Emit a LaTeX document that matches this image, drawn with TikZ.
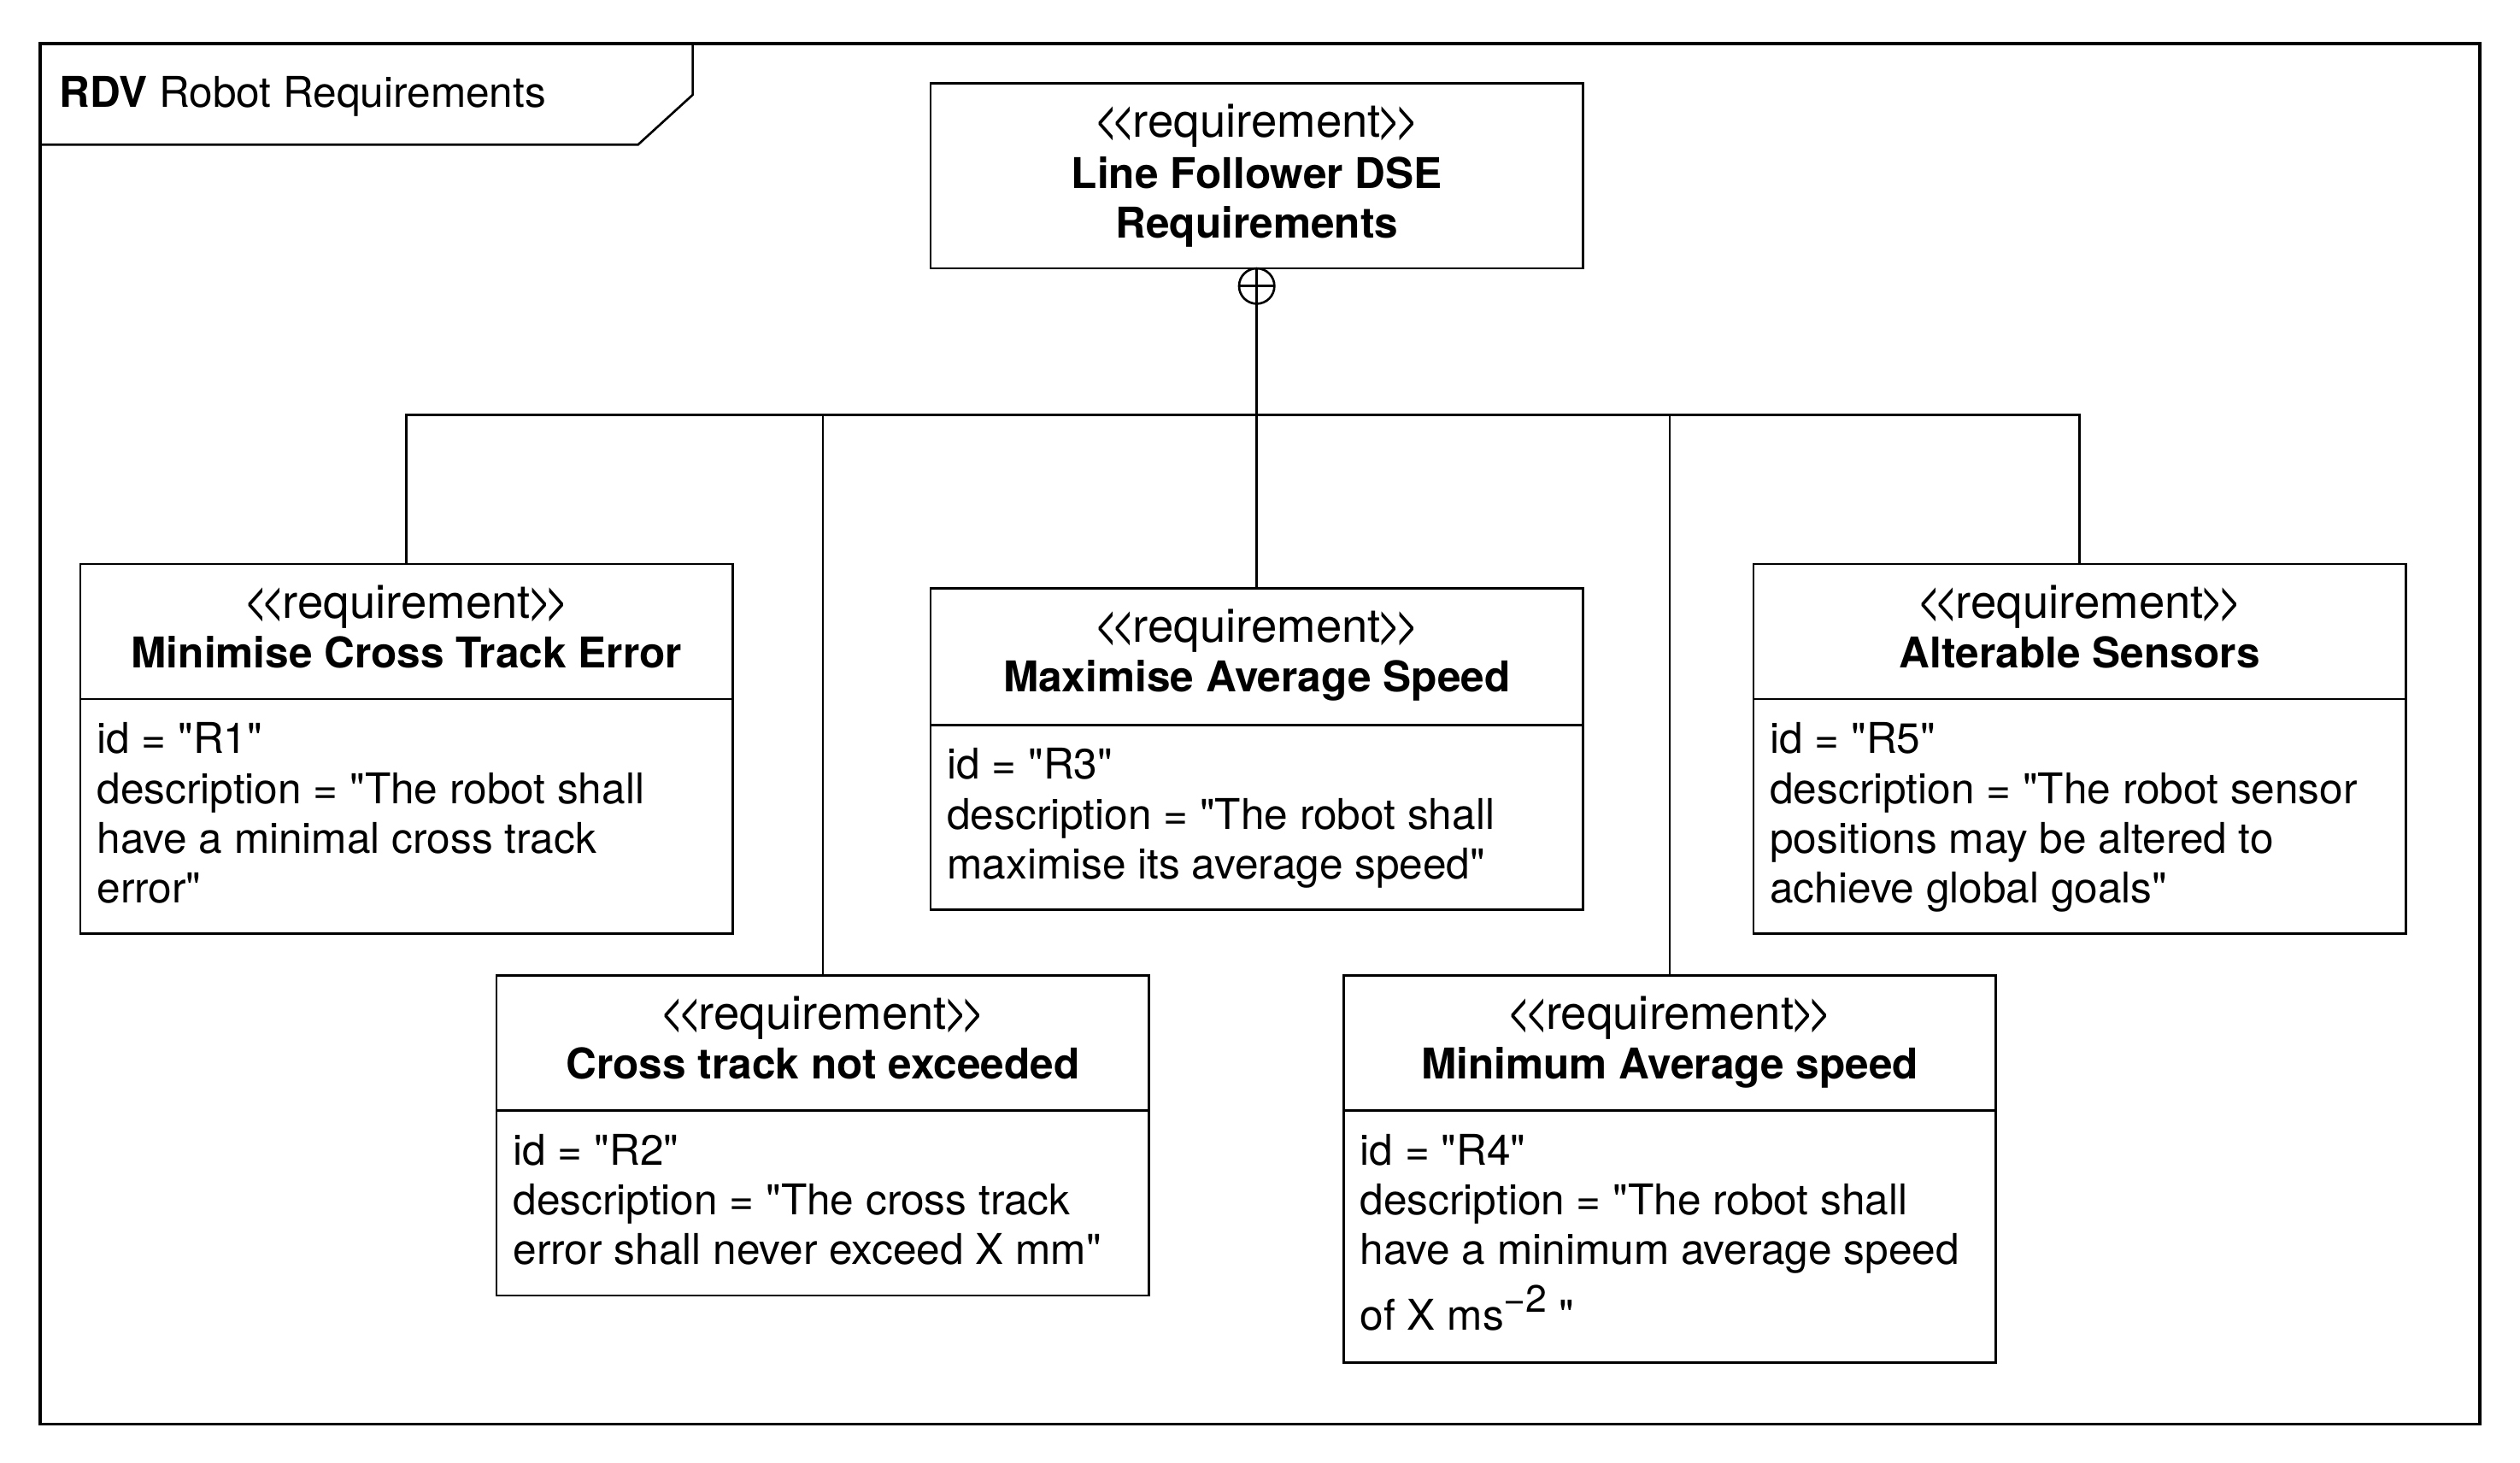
\documentclass[tikz,border=0pt]{standalone}
\usepackage{graphicx}
\usepackage{fontspec}
\newfontfamily\hv{TeX Gyre Heros}
\newcommand{\lch}{\scalebox{0.9}[1.15]{<}}
\newcommand{\rch}{\scalebox{0.9}[1.15]{>}}
\newcommand{\stereotxt}{\lch\kern-0.15em\lch\kern-0.07em requirement\kern-0.07em\rch\kern-0.15em\rch}
\begin{document}
\begin{tikzpicture}[x=0.02cm,y=-0.02cm,
  every node/.style={font=\hv\fontsize{15}{18}\selectfont},
  box/.style={draw,line width=0.8pt,rectangle,inner sep=0pt,outer sep=0pt,minimum width=8.12cm,anchor=north west},
  stereo/.style={anchor=base,inner sep=0pt,font=\hv\fontsize{16.5}{18}\selectfont},
  rname/.style={anchor=base,inner sep=0pt,font=\hv\bfseries\fontsize{15}{18}\selectfont},
  attr/.style={anchor=base west,inner sep=0pt},
  conn/.style={line width=0.8pt},
  divider/.style={line width=0.8pt}]
\useasboundingbox (0,0) rectangle (1568,910);
% frame
\draw[line width=1.1pt] (25,27) rectangle (1543,886);
\draw[line width=0.8pt] (25,90) -- (397,90) -- (431,59) -- (431,27);
\node[anchor=base west,inner sep=0pt] (title) at (36.6,66.8) {\textbf{RDV} Robot Requirements};
% top box
\node[box,minimum height=2.3cm] (top) at (579,52) {};
\node[stereo] (tops) at (782,85.1) {\stereotxt};
\node[rname] (topn1) at (782,117.3) {Line Follower DSE};
\node[rname] (topn2) at (782,148) {Requirements};
% R1
\node[box,minimum height=4.6cm] (r1) at (50,351) {};
\draw[divider] (50,435) -- (456,435);
\node[stereo] (r1s) at (253,384.5) {\stereotxt};
\node[rname] (r1n) at (253,415.5) {Minimise Cross Track Error};
\node[attr] (r1a) at (60,468.8) {id = "R1"};
\node[attr] (r1b) at (60,499.8) {description = "The robot shall};
\node[attr] (r1c) at (60,530.8) {have a minimal cross track};
\node[attr] (r1d) at (60,561.8) {error"};
% R2
\node[box,minimum height=3.98cm] (r2) at (309,607) {};
\draw[divider] (309,691) -- (715,691);
\node[stereo] (r2s) at (512,640.5) {\stereotxt};
\node[rname] (r2n) at (512,671.5) {Cross track not exceeded};
\node[attr] (r2a) at (319,724.8) {id = "R2"};
\node[attr] (r2b) at (319,755.8) {description = "The cross track};
\node[attr] (r2c) at (319,786.8) {error shall never exceed X mm"};
% R3
\node[box,minimum height=4.0cm] (r3) at (579,366) {};
\draw[divider] (579,451) -- (985,451);
\node[stereo] (r3s) at (782,399.5) {\stereotxt};
\node[rname] (r3n) at (782,430.5) {Maximise Average Speed};
\node[attr] (r3a) at (589,484.8) {id = "R3"};
\node[attr] (r3b) at (589,515.8) {description = "The robot shall};
\node[attr] (r3c) at (589,546.8) {maximise its average speed"};
% R4
\node[box,minimum height=4.82cm] (r4) at (836,607) {};
\draw[divider] (836,691) -- (1242,691);
\node[stereo] (r4s) at (1039,640.5) {\stereotxt};
\node[rname] (r4n) at (1039,671.5) {Minimum Average speed};
\node[attr] (r4a) at (846,724.8) {id = "R4"};
\node[attr] (r4b) at (846,755.8) {description = "The robot shall};
\node[attr] (r4c) at (846,786.8) {have a minimum average speed};
\node[attr] (r4d) at (846,827.7) {of X ms\raisebox{6.5pt}{\fontsize{13.5}{13.5}\selectfont −2} "};
% R5
\node[box,minimum height=4.6cm] (r5) at (1091,351) {};
\draw[divider] (1091,435) -- (1497,435);
\node[stereo] (r5s) at (1294,384.5) {\stereotxt};
\node[rname] (r5n) at (1294,415.5) {Alterable Sensors};
\node[attr] (r5a) at (1101,468.8) {id = "R5"};
\node[attr] (r5b) at (1101,499.8) {description = "The robot sensor};
\node[attr] (r5c) at (1101,530.8) {positions may be altered to};
\node[attr] (r5d) at (1101,561.8) {achieve global goals"};
% containment
\node[draw,circle,line width=0.8pt,minimum size=0.44cm,inner sep=0pt,outer sep=0pt,anchor=north] (cp) at (top.south) {};
\draw[conn] (cp.north) -- (cp.south) (cp.west) -- (cp.east);
\coordinate (bus) at (782,258);
\draw[conn] (cp.south) -- (r3.north);
\draw[conn] (r1.north) |- (bus) -| (r5.north);
\draw[conn] (r2.north) -- (r2.north |- bus);
\draw[conn] (r4.north) -- (r4.north |- bus);
\end{tikzpicture}
\end{document}
